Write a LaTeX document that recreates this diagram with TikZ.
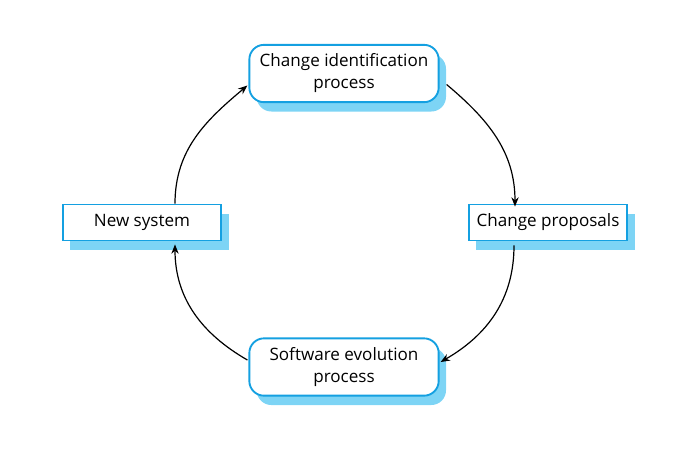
\documentclass[tikz,border=0pt]{standalone}
\usepackage{fontspec}
\setmainfont{Open Sans}
\usetikzlibrary{positioning, arrows.meta, shadows, calc}
\definecolor{boxline}{RGB}{20,160,225}
\definecolor{boxshadow}{RGB}{125,212,245}

\begin{document}
\begin{tikzpicture}[x=0.75pt, y=0.75pt,
        proc/.style={draw=boxline, line width=1.4pt, fill=white, align=center,
                     font=\fontsize{12.8}{16.5}\selectfont,
                     drop shadow={shadow xshift=5.5pt, shadow yshift=-7pt,
                                  fill=boxshadow, opacity=1}},
        phase/.style={proc, rounded corners=11pt, minimum width=142pt, minimum height=43pt},
        item/.style={proc, minimum width=119pt, minimum height=27pt},
        flow/.style={-{Stealth[length=7pt, width=5.5pt]}, line width=0.9pt},
    ]
        \useasboundingbox (0,0) rectangle (681,-462);

        \node[phase] (ident) at (344,-73.5) {Change identification\\process};
        \node[item]  (props) at (548,-222.5) {Change proposals};
        \node[phase] (evol)  at (344,-367) {Software evolution\\process};
        \node[item]  (newsys) at (142,-222.5) {New system};

        % the cycle
        \draw[flow] ($(ident.east)+(7,-11)$) to[out=-40, in=90] ($(props.north)+(-33,-3)$);
        \draw[flow] ($(props.south)+(-34,-4)$) to[out=-90, in=30] ($(evol.east)+(1,5)$);
        \draw[flow] ($(evol.west)+(-1,7)$) to[out=150, in=-90] ($(newsys.south)+(33,-3)$);
        \draw[flow] ($(newsys.north)+(33,0)$) to[out=90, in=-140] ($(ident.west)+(-1,-12)$);
    \end{tikzpicture}
\end{document}
